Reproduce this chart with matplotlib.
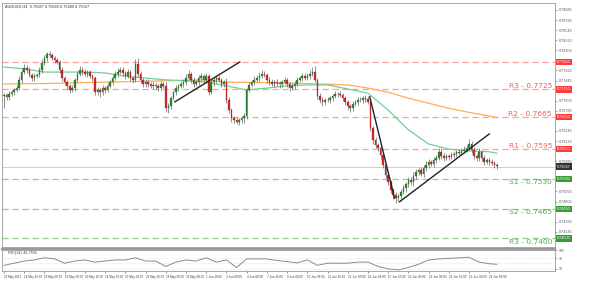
import numpy as np
import matplotlib.pyplot as plt

# AUDUSD H4 candles (close of each bar), open = previous close
first_open = 0.7710
closes = [
    0.7713, 0.7709, 0.7715, 0.7720, 0.7724, 0.7728, 0.7746, 0.7763,
    0.7772, 0.7768, 0.7757, 0.7750, 0.7754, 0.7757, 0.7768, 0.7783,
    0.7794, 0.7802, 0.7800, 0.7794, 0.7789, 0.7785, 0.7768, 0.7750,
    0.7741, 0.7733, 0.7724, 0.7728, 0.7746, 0.7759, 0.7768, 0.7763,
    0.7759, 0.7763, 0.7754, 0.7750, 0.7720, 0.7724, 0.7720, 0.7728,
    0.7724, 0.7733, 0.7741, 0.7750, 0.7759, 0.7763, 0.7768, 0.7761,
    0.7754, 0.7763, 0.7750, 0.7746, 0.7781, 0.7759, 0.7746, 0.7737,
    0.7741, 0.7737, 0.7733, 0.7735, 0.7733, 0.7728, 0.7737, 0.7733,
    0.7685, 0.7689, 0.7706, 0.7720, 0.7728, 0.7733, 0.7737, 0.7741,
    0.7750, 0.7759, 0.7746, 0.7737, 0.7741, 0.7750, 0.7754, 0.7746,
    0.7754, 0.7720, 0.7741, 0.7746, 0.7750, 0.7746, 0.7737, 0.7741,
    0.7702, 0.7680, 0.7663, 0.7658, 0.7654, 0.7658, 0.7663, 0.7667,
    0.7724, 0.7735, 0.7741, 0.7746, 0.7750, 0.7754, 0.7759, 0.7757,
    0.7746, 0.7741, 0.7737, 0.7741, 0.7739, 0.7737, 0.7741, 0.7746,
    0.7737, 0.7728, 0.7733, 0.7737, 0.7746, 0.7750, 0.7754, 0.7750,
    0.7754, 0.7759, 0.7763, 0.7746, 0.7711, 0.7702, 0.7698, 0.7702,
    0.7702, 0.7706, 0.7711, 0.7715, 0.7715, 0.7713, 0.7706, 0.7698,
    0.7689, 0.7685, 0.7693, 0.7698, 0.7702, 0.7702, 0.7706, 0.7704,
    0.7698, 0.7641, 0.7615, 0.7604, 0.7597, 0.7582, 0.7560, 0.7538,
    0.7523, 0.7506, 0.7495, 0.7488, 0.7493, 0.7501, 0.7510, 0.7519,
    0.7528, 0.7523, 0.7536, 0.7545, 0.7549, 0.7541, 0.7554, 0.7560,
    0.7567, 0.7563, 0.7571, 0.7576, 0.7589, 0.7580, 0.7576, 0.7580,
    0.7578, 0.7582, 0.7584, 0.7589, 0.7587, 0.7591, 0.7593, 0.7597,
    0.7606, 0.7593, 0.7580, 0.7576, 0.7589, 0.7576, 0.7567, 0.7571,
    0.7567, 0.7565, 0.7560, 0.7557,
]
# wick lengths in pips above / below the body
upper_pips = [
    4, 5, 6, 4, 5, 6, 8, 7, 9, 6, 5, 4, 6, 5, 7, 8,
    6, 5, 6, 4, 5, 4, 5, 6, 4, 5, 4, 6, 5, 6, 8, 5,
    6, 5, 4, 5, 4, 6, 5, 7, 5, 6, 5, 7, 6, 8, 6, 5,
    5, 6, 4, 5, 10, 12, 6, 5, 6, 7, 5, 6, 5, 4, 6, 5,
    9, 6, 5, 4, 6, 5, 7, 6, 9, 8, 5, 6, 5, 7, 6, 5,
    6, 5, 6, 7, 5, 6, 5, 4, 10, 6, 5, 4, 6, 5, 4, 6,
    5, 6, 5, 8, 7, 9, 8, 6, 5, 6, 7, 5, 6, 5, 4, 6,
    5, 4, 6, 7, 6, 5, 8, 7, 7, 8, 12, 14, 5, 6, 7, 5,
    6, 5, 4, 6, 5, 7, 5, 4, 5, 4, 6, 5, 6, 7, 5, 8,
    6, 7, 5, 6, 5, 4, 6, 5, 5, 4, 5, 6, 5, 7, 6, 5,
    6, 5, 8, 6, 5, 7, 6, 9, 6, 5, 7, 6, 8, 9, 6, 5,
    5, 6, 7, 5, 6, 7, 8, 6, 11, 7, 6, 5, 8, 5, 6, 5,
    5, 6, 4, 5,
]
lower_pips = [
    26, 8, 6, 5, 6, 5, 4, 6, 5, 6, 5, 7, 6, 4, 5, 6,
    5, 6, 4, 5, 6, 5, 6, 7, 6, 8, 7, 5, 6, 4, 5, 6,
    5, 6, 5, 7, 6, 8, 12, 6, 6, 5, 4, 6, 5, 7, 5, 6,
    6, 5, 7, 6, 5, 6, 7, 6, 7, 6, 5, 6, 8, 7, 6, 5,
    10, 12, 6, 5, 6, 7, 5, 6, 6, 5, 7, 6, 5, 6, 7, 5,
    6, 7, 5, 8, 6, 5, 7, 6, 6, 7, 8, 6, 5, 7, 6, 12,
    6, 5, 4, 6, 5, 6, 5, 4, 7, 6, 5, 6, 7, 8, 6, 5,
    6, 7, 5, 6, 5, 4, 6, 5, 5, 6, 4, 5, 6, 7, 8, 6,
    5, 6, 7, 5, 6, 5, 6, 7, 8, 9, 6, 5, 6, 5, 7, 6,
    5, 6, 8, 7, 6, 8, 7, 6, 7, 6, 9, 10, 7, 6, 5, 8,
    7, 6, 8, 7, 6, 5, 7, 6, 6, 5, 7, 6, 5, 7, 6, 5,
    6, 5, 7, 6, 5, 6, 5, 4, 5, 6, 7, 8, 6, 7, 6, 5,
    6, 5, 7, 6,
]

# moving averages
ma_bars = [0, 8, 16, 24, 32, 40, 48, 56, 64, 72, 80, 88, 96, 104, 112, 120,
           128, 136, 144, 152, 160, 168, 176, 184, 192, 195]
green_ma = [0.7774, 0.7770, 0.7763, 0.7763, 0.7763, 0.7761, 0.7754, 0.7750,
            0.7746, 0.7744, 0.7741, 0.7733, 0.7724, 0.7728, 0.7733, 0.7735,
            0.7735, 0.7726, 0.7717, 0.7680, 0.7637, 0.7606, 0.7595, 0.7591,
            0.7589, 0.7586]
orange_bars = [0, 16, 32, 48, 64, 80, 88, 104, 120, 136, 144, 152, 160, 168,
               176, 184, 195]
orange_ma = [0.7737, 0.7738, 0.7740, 0.7742, 0.7744, 0.7746, 0.7741, 0.7740,
             0.7738, 0.7735, 0.7728, 0.7719, 0.7706, 0.7695, 0.7684, 0.7675,
             0.7664]

# RSI(14)
rsi_bars = [0, 4, 8, 12, 16, 20, 24, 28, 32, 36, 40, 44, 48, 52, 56, 60, 64,
            68, 72, 76, 80, 84, 88, 92, 96, 100, 104, 108, 112, 116, 120, 124,
            128, 132, 136, 140, 144, 148, 152, 156, 160, 164, 168, 172, 176,
            180, 184, 188, 192, 195]
rsi_vals = [43, 51, 59, 63, 71, 67, 51, 59, 63, 55, 59, 63, 63, 71, 59, 59, 39,
            55, 63, 59, 71, 55, 63, 35, 67, 67, 67, 61, 57, 52, 63, 43,
            51, 51, 51, 55, 55, 39, 30, 26, 35, 47, 63, 67, 69,
            71, 73, 55, 49, 47]

# support / resistance
levels = [0.7785, 0.7725, 0.7665, 0.7595, 0.7530, 0.7465, 0.7400]
level_names = ['', 'R3 - 0.7725', 'R2 - 0.7665', 'R1 - 0.7595',
               'S1 - 0.7530', 'S2 - 0.7465', 'R3 - 0.7400']
level_side = ['r', 'r', 'r', 'r', 's', 's', 's']
last_price = 0.75567

# trend lines (bar, price)
trend_x = [[67.6, 93.3], [144.7, 154.5], [156.5, 192.0]]
trend_y = [[0.7698, 0.7785], [0.7709, 0.7488], [0.7480, 0.7628]]

price_ticks = [0.78985, 0.78765, 0.78545, 0.78325, 0.78105, 0.77885, 0.77665,
               0.77445, 0.77225, 0.77005, 0.76785, 0.76565, 0.76345, 0.76125,
               0.75905, 0.75685, 0.75465, 0.75245, 0.75025, 0.74805, 0.74585,
               0.74365, 0.74145, 0.73925]
date_labels = ['13 May 2021', '14 May 16:00', '18 May 00:00', '19 May 08:00',
               '20 May 16:00', '24 May 00:00', '25 May 08:00', '26 May 16:00',
               '28 May 00:00', '31 May 08:00', '1 Jun 16:00', '3 Jun 00:00',
               '4 Jun 08:00', '7 Jun 16:00', '9 Jun 00:00', '10 Jun 08:00',
               '11 Jun 16:00', '15 Jun 00:00', '16 Jun 08:00', '17 Jun 16:00',
               '21 Jun 00:00', '22 Jun 08:00', '23 Jun 16:00', '25 Jun 00:00',
               '28 Jun 08:00']

RED_LINE = '#ff9e9e'
GREEN_LINE = '#8fcf8f'
RED_TXT = '#f06060'
GREEN_TXT = '#4caf50'
SMALL = ['Liberation Sans', 'DejaVu Sans']

c = np.array(closes)
o = np.r_[first_open, c[:-1]]
hi = np.maximum(o, c) + np.array(upper_pips) * 0.0001
lo = np.minimum(o, c) - np.array(lower_pips) * 0.0001
x = np.arange(len(c))
up = c >= o

fig = plt.figure(figsize=(6, 2.81), dpi=100)
ax = fig.add_axes([2 / 600, 1 - 247 / 281, 553 / 600, 244 / 281])
ax2 = fig.add_axes([2 / 600, 1 - 271 / 281, 553 / 600, 21 / 281])
xlim = (-0.8, 218)

# levels
tags = []
for lv, name, side in zip(levels, level_names, level_side):
    col = RED_LINE if side == 'r' else GREEN_LINE
    ax.axhline(lv, color=col, lw=0.9, dashes=(5, 3), zorder=1)
    if name:
        tc = RED_TXT if side == 'r' else GREEN_TXT
        off = 0.00068 if side == 'r' else -0.00068
        ax.text(216.8, lv + off, name, color=tc, fontsize=5.4, ha='right',
                va='center', zorder=5)
    tags.append((lv, '#ff3b3b' if side == 'r' else '#3a9a3a'))
tags.append((last_price, '#333333'))
ax.axhline(last_price, color='#c8c8c8', lw=0.6, zorder=1)
for lv, box in tags:
    ax.text(1.004, lv, '%.5f' % lv, transform=ax.get_yaxis_transform(),
            fontsize=2.7, family=SMALL, color='white', va='center', ha='left',
            bbox=dict(boxstyle='square,pad=0.3', fc=box, ec='none'),
            clip_on=False, zorder=6)

# moving averages
ax.plot(orange_bars, orange_ma, color='#ffad4d', lw=0.9, zorder=2)
ax.plot(ma_bars, green_ma, color='#6fcf97', lw=0.9, zorder=2)

# candles
ax.vlines(x, lo, hi, color='#666666', lw=0.5, zorder=3)
ax.bar(x[up], c[up] - o[up], bottom=o[up], width=0.62, color='#2e8b2e',
       edgecolor='#1d5e1d', lw=0.2, zorder=4)
ax.bar(x[~up], o[~up] - c[~up], bottom=c[~up], width=0.62, color='#d42a2a',
       edgecolor='#8b1a1a', lw=0.2, zorder=4)

for tx, ty in zip(trend_x, trend_y):
    ax.plot(tx, ty, color='#222222', lw=1.0, zorder=5)

ax.set_xlim(*xlim)
ax.set_ylim(0.73813, 0.79137)
ax.yaxis.tick_right()
# tick labels hidden behind a price tag are left out
shown = [t for t in price_ticks if min(abs(t - lv) for lv, _ in tags) > 0.0011]
ax.set_yticks(shown)
ax.set_yticklabels(['%.5f' % t for t in shown], family=SMALL)
ax.tick_params(axis='y', labelsize=2.7, length=1.5, width=0.4, pad=1,
               colors='#555555')
ax.set_xticks([])
for s in ax.spines.values():
    s.set_color('#9a9a9a')
    s.set_linewidth(0.6)

fig.text(5 / 600, 1 - 7 / 281, 'AUDUSD,H4  0.75587 0.75669 0.75489 0.75567',
         fontsize=2.8, family=SMALL, color='#333333', va='center')

# separator between panels
fig.add_artist(plt.Line2D([2 / 600, 555 / 600], [1 - 248.8 / 281] * 2,
                          color='#9a9a9a', lw=1.6))

# RSI panel
for lv in (30, 50, 70):
    ax2.axhline(lv, color='#cfcfcf', lw=0.4, ls=(0, (1, 1.5)))
ax2.plot(rsi_bars, rsi_vals, color='#8a8a8a', lw=0.7)
ax2.set_xlim(*xlim)
ax2.set_ylim(22, 100)
ax2.yaxis.tick_right()
ax2.set_yticks([30, 70, 100])
ax2.set_yticklabels(['30', '70', '100'], family=SMALL)
ax2.tick_params(axis='y', labelsize=2.4, length=1.5, width=0.4, pad=1,
                colors='#555555')
ax2.set_xticks(np.arange(len(date_labels)) * 8)
ax2.set_xticklabels(date_labels, ha='left', family=SMALL)
ax2.tick_params(axis='x', labelsize=2.2, length=1.5, width=0.4, pad=1.5,
                colors='#444444')
for s in ax2.spines.values():
    s.set_color('#9a9a9a')
    s.set_linewidth(0.6)
ax2.text(1.5, 97, 'RSI(14) 46.7555', fontsize=2.8, family=SMALL,
         color='#444444', va='top')

fig.savefig('out.png', dpi=100, facecolor='white')
